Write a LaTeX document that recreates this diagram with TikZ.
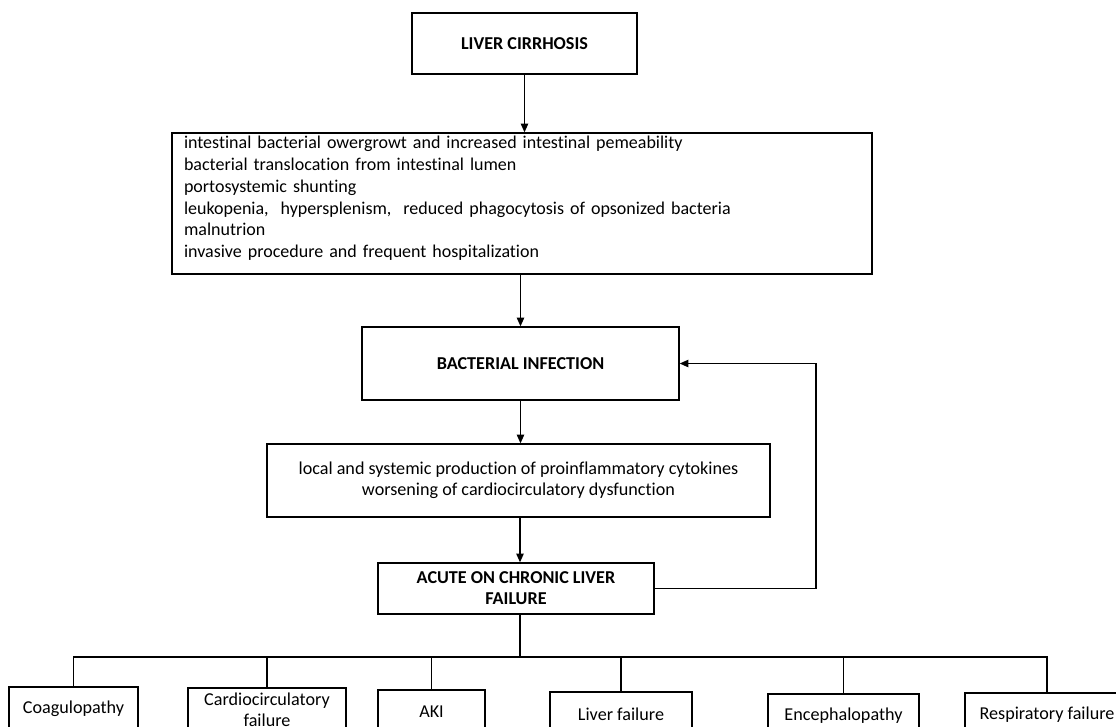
\documentclass[tikz,border=0pt]{standalone}
\usepackage{fontspec}
\setmainfont{Carlito}[Ligatures=NoCommon]
\usetikzlibrary{arrows.meta,calc}

\tikzset{
  flowbox/.style={draw, line width=1pt, inner sep=0pt, align=center, font=\fontsize{13.6}{15.75}\selectfont},
  boldbox/.style={flowbox, font=\fontsize{13.6}{15.75}\selectfont\bfseries},
  arr/.style={line width=1pt, -{Triangle[length=6.5pt,width=5.5pt]}},
  link/.style={line width=1pt}
}

\begin{document}
\begin{tikzpicture}[x=0.75pt,y=-0.75pt]
  \useasboundingbox (0,0) rectangle (1116,726);
  \clip (0,0) rectangle (1116,726);

  % main chain
  \node[boldbox, minimum width=168.75pt, minimum height=45.75pt] (lc) at (524.5,43.5) {LIVER CIRRHOSIS};
  \node[flowbox, minimum width=525pt, minimum height=105.75pt, text width=507pt, align=left,
        font=\fontsize{13.5}{16.3}\selectfont] (causes) at (522,203.5)
    {intestinal bacterial owergrowt and increased intestinal pemeability\\
     bacterial translocation from intestinal lumen\\
     portosystemic shunting\\
     leukopenia,\ \ hypersplenism,\ \ reduced phagocytosis of opsonized bacteria\\
     malnutrion\\
     invasive procedure and frequent hospitalization\par\kern7.5pt};
  \node[boldbox, minimum width=237.75pt, minimum height=54.75pt] (infect) at (520.5,363.5) {BACTERIAL INFECTION};
  \node[flowbox, minimum width=377.25pt, minimum height=54.75pt] (cyto) at (518.5,480.5)
    {local and systemic production of proinflammatory cytokines\\worsening of cardiocirculatory dysfunction};
  \node[boldbox, minimum width=207pt, minimum height=38.25pt] (aclf) at (516,588.5) {ACUTE ON CHRONIC LIVER\\FAILURE};

  % organ failures
  \node[flowbox, minimum width=96.75pt, minimum height=33pt] (coag) at (73.5,709) {Coagulopathy};
  \node[flowbox, minimum width=118.5pt, minimum height=33pt] (cardio) at (267,710) {Cardiocirculatory\\failure};
  \node[flowbox, minimum width=80.25pt, minimum height=33pt] (aki) at (431.5,712) {AKI};
  \node[flowbox, minimum width=106.5pt, minimum height=33pt] (liverf) at (621,714) {Liver failure};
  \node[flowbox, minimum width=113.25pt, minimum height=33pt] (enceph) at (843.5,716) {Encephalopathy};
  \node[flowbox, minimum width=123pt, minimum height=33pt] (resp) at (1047,715) {Respiratory failure};

  \coordinate (bus) at (520,657);
  \coordinate (loop) at (816,470);

  % arrows
  \draw[arr] (lc.south) -- (lc.south |- causes.north);
  \draw[arr] (infect.north |- causes.south) -- (infect.north);
  \draw[arr] (infect.south) -- (infect.south |- cyto.north);
  \draw[arr] (cyto.south -| bus) -- (aclf.north -| bus);
  \draw[arr] (aclf.east) -| (loop) |- (infect.east);

  % tree to organ failures
  \draw[link] (aclf.south -| bus) -- (bus);
  \draw[link] (coag.north) |- (bus -| resp.north) -- (resp.north);
  \foreach \n in {cardio,aki,liverf,enceph}
    \draw[link] (\n.north) -- (\n.north |- bus);
\end{tikzpicture}
\end{document}
